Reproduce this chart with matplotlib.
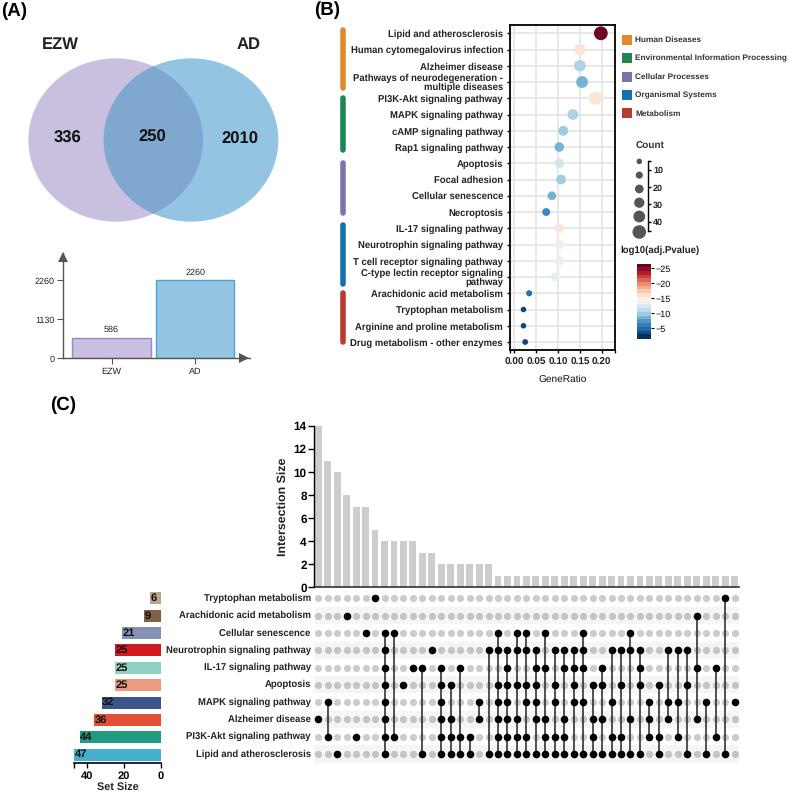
import numpy as np
import matplotlib
matplotlib.use('Agg')
import matplotlib.pyplot as plt
from matplotlib.patches import Ellipse
from matplotlib.cm import ScalarMappable
from matplotlib.colors import Normalize

plt.rcParams['font.family'] = ['Liberation Sans', 'DejaVu Sans']
plt.rcParams['text.hinting'] = 'no_hinting'

W, H = 789, 794

# panel A
venn_names = ['EZW', 'AD']
venn_counts = [336, 250, 2010]
total_names = ['EZW', 'AD']
total_values = [586, 2260]
total_ticks = [0, 1130, 2260]

# panel B
pathways = ['Lipid and atherosclerosis', 'Human cytomegalovirus infection', 'Alzheimer disease',
            'Pathways of neurodegeneration -\nmultiple diseases', 'PI3K-Akt signaling pathway',
            'MAPK signaling pathway', 'cAMP signaling pathway', 'Rap1 signaling pathway',
            'Apoptosis', 'Focal adhesion', 'Cellular senescence', 'Necroptosis',
            'IL-17 signaling pathway', 'Neurotrophin signaling pathway',
            'T cell receptor signaling pathway', 'C-type lectin receptor signaling\npathway',
            'Arachidonic acid metabolism', 'Tryptophan metabolism',
            'Arginine and proline metabolism', 'Drug metabolism - other enzymes']
gene_ratio = [0.198, 0.150, 0.150, 0.155, 0.186, 0.134, 0.112, 0.103, 0.103, 0.107,
              0.086, 0.073, 0.103, 0.103, 0.103, 0.094, 0.034, 0.021, 0.021, 0.025]
counts = [47, 36, 36, 37, 44, 32, 27, 25, 25, 26, 21, 17, 25, 25, 25, 23, 8, 5, 5, 6]
log_padj = [-26, -15.5, -10, -8, -15.5, -10, -9.5, -8, -11.5, -9.5,
            -8, -6, -15.2, -13, -13, -12.8, -4.5, -2.5, -2.5, -2.5]
categories = ['Human Diseases', 'Environmental Information Processing', 'Cellular Processes',
              'Organismal Systems', 'Metabolism']
category_colors = ['#df8b2d', '#1f8553', '#7a74ad', '#1571ae', '#b63c2e']
count_legend = [5, 13, 21, 29, 37, 46]

# panel C
set_names = ['Tryptophan metabolism', 'Arachidonic acid metabolism', 'Cellular senescence',
             'Neurotrophin signaling pathway', 'IL-17 signaling pathway', 'Apoptosis',
             'MAPK signaling pathway', 'Alzheimer disease', 'PI3K-Akt signaling pathway',
             'Lipid and atherosclerosis']
set_sizes = [6, 9, 21, 25, 25, 25, 32, 36, 44, 47]
set_colors = ['#b8a38d', '#7e6148', '#8491b4', '#d2191f', '#91d1c2',
              '#eb9b7f', '#3c5488', '#e04f38', '#219a7f', '#45b0cb']
intersection_sizes = [14, 11, 10, 8, 7, 7, 5, 4, 4, 4, 4, 3, 3, 2, 2, 2, 2, 2, 2] + [1] * 26
# row numbers of each column, 0 = Tryptophan ... 9 = Lipid
memberships = [[7], [6, 8], [9], [1], [8], [2], [0], [2, 3, 4, 5, 6, 7, 8, 9], [2, 8], [5], [4],
               [4, 9], [3], [4, 5, 6, 7, 8, 9], [5, 7, 8, 9], [4, 8, 9], [8, 9], [6, 7], [3, 9],
               [2, 3, 5, 6, 7, 8, 9], [3, 4, 5, 6, 7, 8, 9], [2, 3, 5, 7, 8, 9],
               [2, 3, 5, 6, 8, 9], [3, 4, 5, 6, 7, 9], [2, 4, 7, 8, 9], [3, 5, 6, 8, 9],
               [3, 4, 7, 8, 9], [3, 4, 5, 6, 9], [2, 3, 4, 6, 9], [5, 7, 8, 9], [4, 5, 7, 9],
               [3, 6, 8, 9], [3, 5, 8, 9], [2, 3, 7, 9], [3, 4, 5, 9], [6, 7, 8], [5, 8, 9],
               [3, 6, 7], [3, 6, 8], [3, 5, 9], [1, 4, 7], [6, 9], [4, 8], [0, 9], [6]]


def axes_px(left, top, right, bottom, **kw):
    return fig.add_axes([left / W, 1 - bottom / H, (right - left) / W, (bottom - top) / H], **kw)


fig = plt.figure(figsize=(W / 100, H / 100), dpi=100)

# overlay in pixel coordinates for the venn, legends and panel letters
over = axes_px(0, 0, W, H)
over.set_xlim(0, W)
over.set_ylim(H, 0)
over.axis('off')

for label, x, y in [('(A)', 1, 11), ('(B)', 314, 10), ('(C)', 50, 405)]:
    over.text(x, y, label, fontsize=13.5, fontweight='bold', ha='left', va='center')

purple = Ellipse((115.7, 140), 174.7, 163.3, color='#c9c0df', lw=0)
blue = Ellipse((191, 140), 174.7, 163.3, color='#93c5e3', lw=0)
overlap = Ellipse((191, 140), 174.7, 163.3, color='#80a7d0', lw=0)
over.add_patch(purple)
over.add_patch(blue)
over.add_patch(overlap)
overlap.set_clip_path(Ellipse((115.7, 140), 174.7, 163.3, transform=over.transData))
over.text(60, 45, venn_names[0], fontsize=12, fontweight='bold', ha='center', va='center', color='#222222')
over.text(248.7, 45, venn_names[1], fontsize=12, fontweight='bold', ha='center', va='center', color='#222222')
for n, x, y in zip(venn_counts, [68, 152.7, 240], [138, 137, 139]):
    over.text(x, y, str(n), fontsize=12, fontweight='bold', ha='center', va='center', color='#111111')

# category strips next to panel B
strips = [(28.3, 90), (96, 151.7), (161, 215), (223.3, 286), (290.7, 344.3)]
for (y0, y1), c in zip(strips, category_colors):
    over.plot([342.7, 342.7], [y0 + 2, y1 - 2], color=c, lw=4, solid_capstyle='round')
for i, (name, c) in enumerate(zip(categories, category_colors)):
    y = 40 + 18.35 * i
    over.scatter([627], [y], marker='s', s=50, color=c, lw=0)
    over.text(635, y, name, fontsize=5.95, fontweight='bold', ha='left', va='center', color='#333333')
over.text(636, 146.7, 'Count', fontsize=7.2, fontweight='bold', ha='left', va='center', color='#333333')
over.text(620, 250, 'log10(adj.Pvalue)', fontsize=6.9, fontweight='bold', ha='left', va='center', color='#222222')

# totals bar chart
ax = axes_px(63.3, 253, 250, 358.3)
ax.bar([0, 1], total_values, width=0.937, color=['#c9c0df', '#93c5e3'],
       edgecolor=['#9a86c4', '#4fa3d6'], linewidth=1)
for i, v in enumerate(total_values):
    ax.text(i, v + 110, str(v), ha='center', va='bottom', fontsize=6.5, color='#222222')
ax.set_xlim(-0.576, 1.655)
ax.set_ylim(0, 3051)
ax.set_xticks([0, 1], total_names, fontsize=6.5, color='#222222')
ax.set_yticks(total_ticks, [str(t) for t in total_ticks], fontsize=6.5, color='#222222')
ax.tick_params(length=4.5, width=0.8, color='#555555', pad=2)
ax.patch.set_alpha(0)
for s in ['top', 'right']:
    ax.spines[s].set_visible(False)
for s in ['left', 'bottom']:
    ax.spines[s].set_color('#555555')
    ax.spines[s].set_linewidth(1)
ax.plot(0, 0.96, '^', color='#555555', ms=7, transform=ax.transAxes, clip_on=False, mew=0)
ax.plot(0.97, 0, '>', color='#555555', ms=7, transform=ax.transAxes, clip_on=False, mew=0)

# dot plot
ax = axes_px(510, 25, 615, 350.3)
rows = np.arange(len(pathways))
sizes = [(0.72 * (4.6 + 0.195 * c)) ** 2 for c in counts]
norm = Normalize(-26.3, -1.45)
ax.grid(True, color='#e4e4e4', lw=1.2)
ax.set_axisbelow(True)
ax.scatter(gene_ratio, rows, s=sizes, c=log_padj, cmap='RdBu', norm=norm, lw=0, zorder=3)
ax.set_xlim(-0.0098, 0.2304)
ax.set_ylim(19.51, -0.51)
ax.set_yticks(rows, pathways, fontsize=6.85, fontweight='bold', color='#222222', linespacing=0.9)
ax.set_xticks([0, 0.05, 0.1, 0.15, 0.2], ['0.00', '0.05', '0.10', '0.15', '0.20'],
              fontsize=7.2, fontweight='bold', color='#222222')
ax.set_xticks([-0.0098, 0.2304], minor=True)
ax.tick_params(axis='both', which='both', length=2.5, width=1, pad=3)
ax.tick_params(axis='y', pad=2.5)
ax.set_xlabel('GeneRatio', fontsize=7.3, fontweight='medium', labelpad=5, color='#111111')
for s in ax.spines.values():
    s.set_linewidth(1.3)

# count legend, circles on the left of the bracket
ax = axes_px(632, 160.7, 648.3, 231.3)
ax.set_xlim(632, 648.3)
ax.set_ylim(45.6, 4.6)
ax.scatter([639.3] * len(count_legend), count_legend, s=[(0.72 * (4.6 + 0.195 * c)) ** 2 for c in count_legend],
           color='#555555', lw=0, clip_on=False)
ax.set_xticks([])
ax.yaxis.tick_right()
ax.set_yticks([10, 20, 30, 40], ['10', '20', '30', '40'], fontsize=6.5, fontweight='bold', color='#222222')
ax.set_yticks([4.6, 45.6], minor=True)
ax.tick_params(axis='y', which='both', direction='out', length=2, width=1, pad=1.5)
for s in ['top', 'left', 'bottom']:
    ax.spines[s].set_visible(False)
ax.spines['right'].set_linewidth(1)
ax.patch.set_alpha(0)

# colour bar
cax = axes_px(636.7, 264.3, 650.7, 339)
cb = fig.colorbar(ScalarMappable(norm=norm, cmap=plt.get_cmap('RdBu', 20)), cax=cax)
cb.set_ticks([-25, -20, -15, -10, -5], labels=['\u221225', '\u221220', '\u221215', '\u221210', '\u22125'])
cax.invert_yaxis()
cax.tick_params(length=2, width=0.8, labelsize=6.5, pad=1.5)
cb.outline.set_visible(False)
cb.solids.set_edgecolor('face')

# upset bars
ax = axes_px(314.3, 426, 739.3, 587.3)
cols = np.arange(len(intersection_sizes))
ax.bar(cols, intersection_sizes, width=0.72, color='#cdcdcd', lw=0)
ax.set_xlim(-0.42, 44.5)
ax.set_ylim(0, 14)
ax.set_xticks([])
ax.set_yticks(np.arange(0, 15, 2))
ax.set_yticklabels(np.arange(0, 15, 2), fontsize=8.5, fontweight='bold')
ax.tick_params(axis='y', length=4, width=1, pad=1.5)
ax.set_ylabel('Intersection Size', fontsize=8.9, fontweight='bold', labelpad=4, color='#222222')
for s in ['top', 'right']:
    ax.spines[s].set_visible(False)
ax.spines['bottom'].set_linewidth(1.2)
ax.spines['left'].set_linewidth(1)
ax.spines['bottom'].set_color('#333333')

# upset matrix
ax = axes_px(314.3, 589.65, 739.3, 762.65)
ax.set_xlim(-0.42, 44.5)
ax.set_ylim(9.5, -0.5)
ax.axis('off')
for r in range(1, 10, 2):
    ax.axhspan(r - 0.5, r + 0.5, color='#f5f5f5', lw=0, zorder=0)
grid_x, grid_y = np.meshgrid(cols, np.arange(10))
ax.scatter(grid_x.ravel(), grid_y.ravel(), s=27, color='black', alpha=0.2, lw=0, zorder=1)
for c, m in enumerate(memberships):
    ax.scatter([c] * len(m), m, s=30, color='black', lw=0, zorder=3)
    if len(m) > 1:
        ax.plot([c, c], [min(m), max(m)], color='#222222', lw=1.1, zorder=2)

# row labels between set bars and matrix
for i, name in enumerate(set_names):
    over.text(310.7, 598.3 + 17.3 * i, name, fontsize=6.85, fontweight='bold', ha='right', va='center', color='#222222')

# set size bars
ax = axes_px(74, 589.65, 160.7, 763.3)
ax.barh(np.arange(10), set_sizes, height=0.69, color=set_colors, lw=0)
for i, v in enumerate(set_sizes):
    ax.text(v - 0.3, i, str(v), ha='left', va='center', fontsize=8, fontweight='bold', color='#111111')
ax.set_ylim(9.5, -0.5)
ax.set_xlim(47, 0)
ax.set_yticks([])
ax.set_xticks([0, 20, 40], ['0', '20', '40'], fontsize=8, fontweight='bold')
ax.set_xticks([47], minor=True)
ax.tick_params(axis='x', which='both', length=3.5, width=1, pad=2)
ax.set_xlabel('Set Size', fontsize=7.8, fontweight='bold', labelpad=1.5, color='#222222')
for s in ['top', 'left', 'right']:
    ax.spines[s].set_visible(False)
ax.spines['bottom'].set_linewidth(1.2)
ax.patch.set_alpha(0)

fig.savefig('out.png', dpi=100)
